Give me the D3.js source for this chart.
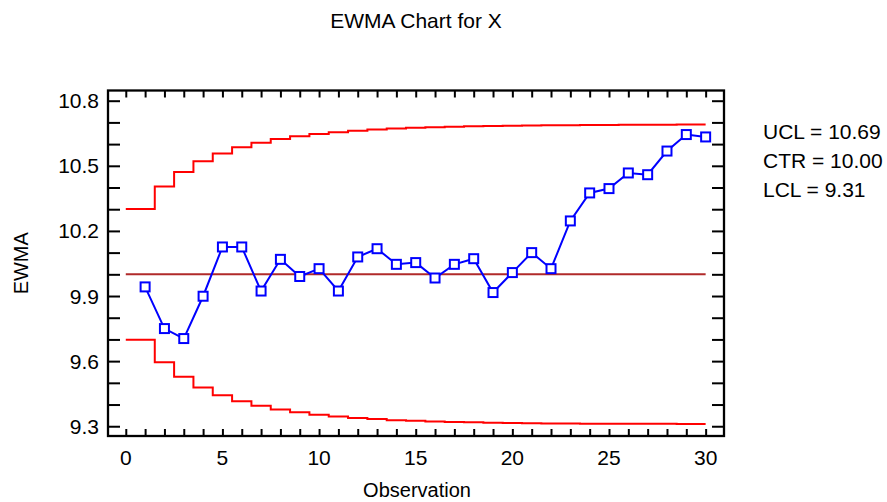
<!DOCTYPE html>
<html>
<head>
<meta charset="utf-8">
<script src="https://cdn.jsdelivr.net/npm/d3@7/dist/d3.min.js"></script>
<style>
  html, body { margin: 0; padding: 0; background: #fff; }
  svg text { font-family: "Liberation Sans", Arial, sans-serif; fill: #000; }
</style>
</head>
<body>
<svg id="chart" width="887" height="502"></svg>
<script>
// ---- data ----
const observations = [1,2,3,4,5,6,7,8,9,10,11,12,13,14,15,16,17,18,19,20,21,22,23,24,25,26,27,28,29,30];
const ewma = [9.942, 9.750, 9.704, 9.899, 10.126, 10.126, 9.923, 10.069, 9.990, 10.026,
              9.923, 10.080, 10.118, 10.046, 10.054, 9.983, 10.046, 10.072, 9.916, 10.008,
              10.100, 10.026, 10.246, 10.375, 10.395, 10.467, 10.459, 10.568, 10.644, 10.633];
const ucl = [10.301, 10.405, 10.472, 10.521, 10.557, 10.585, 10.606, 10.623, 10.636, 10.647,
             10.655, 10.662, 10.667, 10.672, 10.675, 10.678, 10.680, 10.682, 10.684, 10.685,
             10.686, 10.687, 10.687, 10.688, 10.688, 10.689, 10.689, 10.689, 10.690, 10.690];
const lcl = [9.699, 9.595, 9.528, 9.479, 9.443, 9.415, 9.394, 9.377, 9.364, 9.353,
             9.345, 9.338, 9.333, 9.328, 9.325, 9.322, 9.320, 9.318, 9.316, 9.315,
             9.314, 9.313, 9.313, 9.312, 9.312, 9.311, 9.311, 9.311, 9.310, 9.310];
const center = 10.0;
const xTickLabels = [0, 5, 10, 15, 20, 25, 30];
const yTickLabels = [9.3, 9.6, 9.9, 10.2, 10.5, 10.8];
const legendLines = ["UCL = 10.69", "CTR = 10.00", "LCL = 9.31"];
const titleText = "EWMA Chart for X";
const xTitle = "Observation";
const yTitle = "EWMA";

// ---- layout ----
const svg = d3.select("#chart");
const L = 108, R = 724, T = 90.5, B = 436;
const x = d3.scaleLinear().domain([-0.92, 30.95]).range([L, R]);
const y = d3.scaleLinear().domain([9.255, 10.847]).range([B, T]);
const FS = 21, FS2 = 20;

// title
svg.append("text").attr("x", 416).attr("y", 28).attr("text-anchor", "middle")
  .style("font-size", FS + "px").text(titleText);

// step limit lines
function stepData(vals) {
  const pts = [[0, vals[0]]];
  for (let i = 1; i < vals.length; i++) pts.push([observations[i] - 0.5, vals[i]]);
  pts.push([observations[observations.length - 1], vals[vals.length - 1]]);
  return pts;
}
const stepLine = d3.line().x(d => x(d[0])).y(d => y(d[1])).curve(d3.curveStepAfter);
svg.append("path").attr("d", stepLine(stepData(ucl))).attr("fill", "none")
  .attr("stroke", "#ff0000").attr("stroke-width", 2);
svg.append("path").attr("d", stepLine(stepData(lcl))).attr("fill", "none")
  .attr("stroke", "#ff0000").attr("stroke-width", 2);

// center line
svg.append("line").attr("x1", x(0)).attr("x2", x(30)).attr("y1", y(center)).attr("y2", y(center))
  .attr("stroke", "#b02a2a").attr("stroke-width", 2);

// ewma line + markers
const line = d3.line().x((d, i) => x(observations[i])).y(d => y(d));
svg.append("path").attr("d", line(ewma)).attr("fill", "none")
  .attr("stroke", "#0000ff").attr("stroke-width", 2);
const ms = 9;
svg.selectAll("rect.pt").data(ewma).enter().append("rect").attr("class", "pt")
  .attr("x", (d, i) => x(observations[i]) - ms / 2)
  .attr("y", d => y(d) - ms / 2)
  .attr("width", ms).attr("height", ms)
  .attr("fill", "#fff").attr("stroke", "#0000ff").attr("stroke-width", 2);

// axes (ticks inward)
const xTicks = d3.range(0, 31, 1);
const yTicks = d3.range(93, 109, 1).map(v => v / 10);
const xAxisB = d3.axisBottom(x).tickValues(xTicks).tickSize(-7).tickFormat("");
const xAxisT = d3.axisTop(x).tickValues(xTicks).tickSize(-7).tickFormat("");
const yAxisL = d3.axisLeft(y).tickValues(yTicks).tickSize(-12).tickFormat("");
const yAxisR = d3.axisRight(y).tickValues(yTicks).tickSize(-12).tickFormat("");
[[xAxisB, `translate(0,${B})`], [xAxisT, `translate(0,${T})`],
 [yAxisL, `translate(${L},0)`], [yAxisR, `translate(${R},0)`]].forEach(([ax, tr]) => {
  const g = svg.append("g").attr("transform", tr).call(ax);
  g.select(".domain").remove();
  g.selectAll(".tick line").attr("stroke", "#000").attr("stroke-width", 2);
});

// frame
svg.append("rect").attr("x", L).attr("y", T).attr("width", R - L).attr("height", B - T)
  .attr("fill", "none").attr("stroke", "#000").attr("stroke-width", 2.3);

// tick labels
svg.selectAll("text.xl").data(xTickLabels).enter().append("text").attr("class", "xl")
  .attr("x", d => x(d)).attr("y", 465).attr("text-anchor", "middle")
  .style("font-size", FS + "px").text(d => d);
svg.selectAll("text.yl").data(yTickLabels).enter().append("text").attr("class", "yl")
  .attr("x", 99).attr("y", d => y(d)).attr("dy", "0.36em").attr("text-anchor", "end")
  .style("font-size", FS + "px").text(d => d.toFixed(1));

// axis titles
svg.append("text").attr("x", 417).attr("y", 497).attr("text-anchor", "middle")
  .style("font-size", FS2 + "px").text(xTitle);
svg.append("text").attr("transform", `translate(28,${(T + B) / 2}) rotate(-90)`)
  .attr("text-anchor", "middle").style("font-size", FS2 + "px").text(yTitle);

// legend
svg.selectAll("text.lg").data(legendLines).enter().append("text").attr("class", "lg")
  .attr("x", 763).attr("y", (d, i) => 139 + i * 29)
  .style("font-size", FS + "px").text(d => d);
</script>
</body>
</html>
